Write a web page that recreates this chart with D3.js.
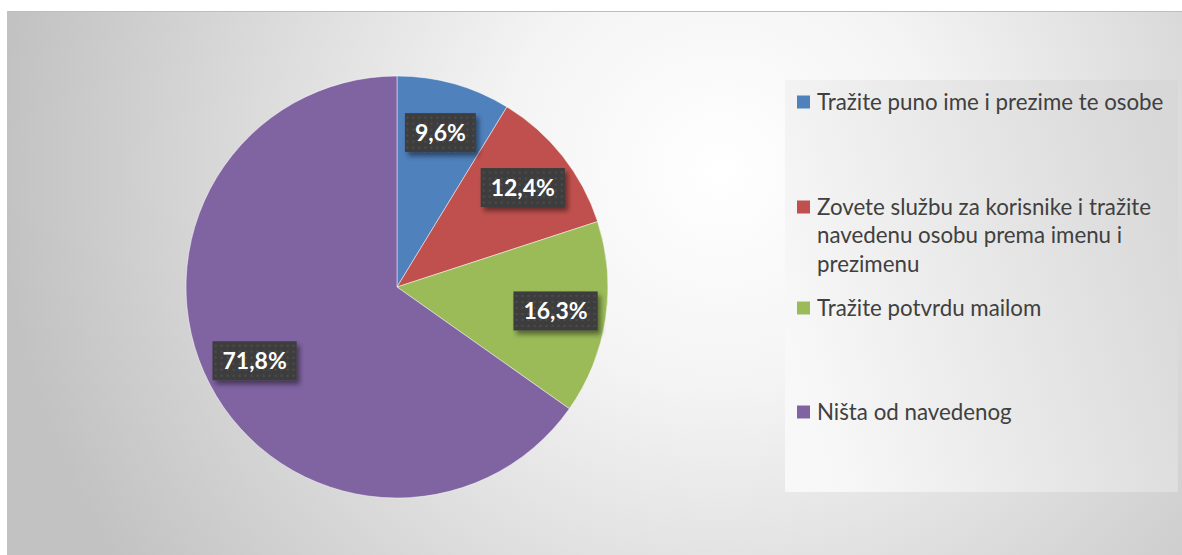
<!DOCTYPE html>
<html>
<head>
<meta charset="utf-8">
<script src="https://cdn.jsdelivr.net/npm/d3@7"></script>
<style>
  body { margin: 0; background: #fff; }
  svg { display: block; }
</style>
</head>
<body>
<div id="vis-container"></div>
<script>
// data
const categories = [
    "Tražite puno ime i prezime te osobe",
    "Zovete službu za korisnike i tražite navedenu osobu prema imenu i prezimenu",
    "Tražite potvrdu mailom",
    "Ništa od navedenog"
];
const values = [9.6, 12.4, 16.3, 71.8];
const valueLabels = ["9,6%", "12,4%", "16,3%", "71,8%"];
const colors = ["#4f81bd", "#c0504d", "#9bbb59", "#8064a2"];
// legend text is wrapped like in the original
const legendLines = [
    ["Tražite puno ime i prezime te osobe"],
    ["Zovete službu za korisnike i tražite", "navedenu osobu prema imenu i", "prezimenu"],
    ["Tražite potvrdu mailom"],
    ["Ništa od navedenog"]
];

let width = 1182;
let height = 555;

var svg = d3.select("#vis-container").append("svg")
    .attr("width", width)
    .attr("height", height);

let defs = svg.append("defs");

// chart area background (radial grey -> white)
let bg = defs.append("radialGradient").attr("id", "bgGrad")
    .attr("gradientUnits", "userSpaceOnUse")
    .attr("cx", 720).attr("cy", 170).attr("r", 720);
bg.append("stop").attr("offset", "0%").attr("stop-color", "#ffffff");
bg.append("stop").attr("offset", "30%").attr("stop-color", "#f4f4f4");
bg.append("stop").attr("offset", "100%").attr("stop-color", "#c2c2c2");

let lg = defs.append("linearGradient").attr("id", "legGrad")
    .attr("x1", "0%").attr("y1", "60%").attr("x2", "100%").attr("y2", "30%");
lg.append("stop").attr("offset", "0%").attr("stop-color", "#f8f8f8");
lg.append("stop").attr("offset", "100%").attr("stop-color", "#d8d8d8");

// dotted dark fill for the data labels
let pat = defs.append("pattern").attr("id", "dots")
    .attr("patternUnits", "userSpaceOnUse")
    .attr("width", 6).attr("height", 6);
pat.append("rect").attr("width", 6).attr("height", 6).attr("fill", "#3d3d3d");
pat.append("circle").attr("cx", 3).attr("cy", 3).attr("r", 1).attr("fill", "#525252");

let shadow = defs.append("filter").attr("id", "shadow")
    .attr("x", "-30%").attr("y", "-30%").attr("width", "160%").attr("height", "180%");
shadow.append("feDropShadow").attr("dx", 3).attr("dy", 4)
    .attr("stdDeviation", 2.5).attr("flood-color", "#000").attr("flood-opacity", 0.45);

svg.append("rect")
    .attr("x", 7).attr("y", 11)
    .attr("width", width - 7).attr("height", height - 11)
    .attr("fill", "url(#bgGrad)");
svg.append("line")
    .attr("x1", 7).attr("x2", width).attr("y1", 11.5).attr("y2", 11.5)
    .attr("stroke", "#bdbdbd").attr("stroke-width", 1);

// pie
let cx = 397, cy = 287, radius = 211;
let pie = d3.pie().sort(null).value(d => d);
let arcs = pie(values);
let arc = d3.arc().innerRadius(0).outerRadius(radius);
let labelArc = d3.arc().innerRadius(radius * 0.76).outerRadius(radius * 0.76);

let pieG = svg.append("g").attr("transform", "translate(" + cx + "," + cy + ")");

pieG.selectAll("path")
    .data(arcs).enter()
    .append("path")
    .attr("d", arc)
    .attr("fill", (d, i) => colors[i])
    .attr("stroke", "#ffffff")
    .attr("stroke-opacity", 0.6)
    .attr("stroke-width", 0.8);

let labelG = pieG.selectAll("g.lbl")
    .data(arcs).enter()
    .append("g")
    .attr("class", "lbl")
    .attr("transform", d => "translate(" + labelArc.centroid(d) + ")");

let boxes = labelG.append("rect")
    .attr("fill", "url(#dots)")
    .attr("filter", "url(#shadow)");

let texts = labelG.append("text")
    .attr("text-anchor", "middle")
    .attr("dy", "0.36em")
    .attr("fill", "#ffffff")
    .style("font-family", "Lato, 'Open Sans', sans-serif")
    .style("font-weight", "bold")
    .style("font-size", "23px")
    .text((d, i) => valueLabels[i]);

texts.each(function(d, i) {
    let w = this.getComputedTextLength() + 20;
    let h = 39;
    d3.select(boxes.nodes()[i])
        .attr("x", -w / 2).attr("y", -h / 2)
        .attr("width", w).attr("height", h);
});

// legend
let legX = 785, legY = 80, legW = 393, legH = 412;
svg.append("rect")
    .attr("x", legX).attr("y", legY)
    .attr("width", legW).attr("height", legH)
    .attr("fill", "url(#legGrad)");

let itemTop = [102, 207, 308, 412]; // centre of first line of each entry
let lineStep = 28.5;

let legend = svg.append("g");
let items = legend.selectAll("g")
    .data(categories).enter()
    .append("g")
    .attr("transform", (d, i) => "translate(" + (legX + 12) + "," + itemTop[i] + ")");

items.append("rect")
    .attr("x", 0).attr("y", -6.5)
    .attr("width", 13).attr("height", 13)
    .attr("fill", (d, i) => colors[i]);

items.append("text")
    .attr("x", 20)
    .attr("fill", "#404040")
    .style("font-family", "Lato, 'Open Sans', sans-serif")
    .style("font-size", "22.3px")
    .selectAll("tspan")
    .data((d, i) => legendLines[i]).enter()
    .append("tspan")
    .attr("x", 20)
    .attr("y", (d, j) => j * lineStep)
    .attr("dy", "0.35em")
    .text(d => d);
</script>
</body>
</html>
